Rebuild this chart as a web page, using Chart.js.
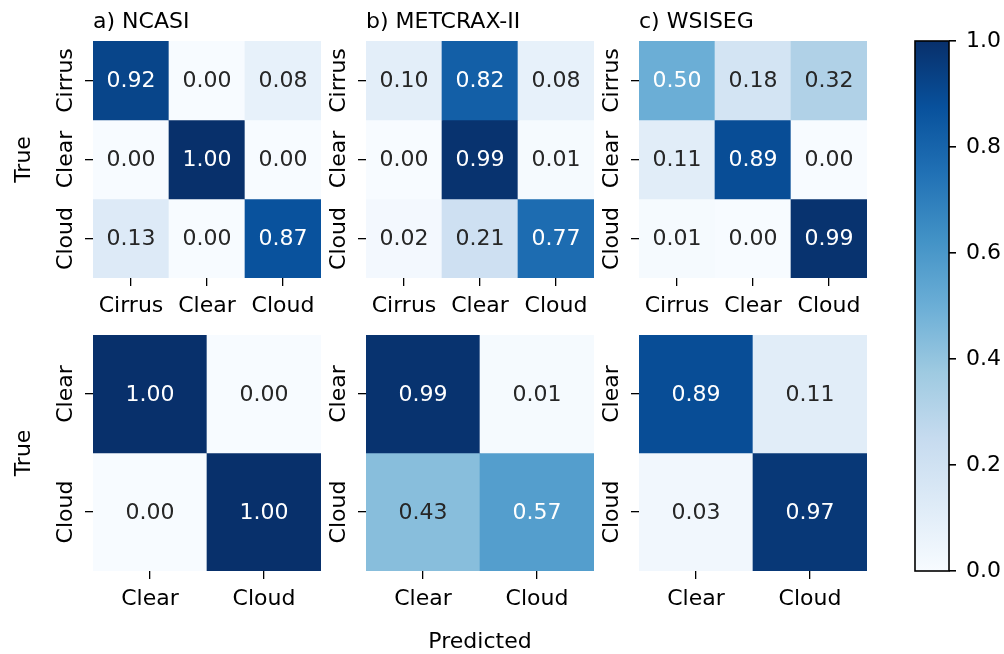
<!DOCTYPE html>
<html>
<head>
<meta charset="utf-8">
<title>Confusion matrices</title>
<script src="https://cdn.jsdelivr.net/npm/chart.js@4.4.1/dist/chart.umd.min.js"></script>
<style>
  html, body { margin: 0; padding: 0; background: #ffffff; }
  #fig { position: relative; width: 1004px; height: 654px; overflow: hidden; background: #ffffff; }
  #fig canvas { position: absolute; left: 0; top: 0; pointer-events: none; }
</style>
</head>
<body>
<div id="fig"></div>
<script>
// ---- class labels ----
const classes3 = ['Cirrus', 'Clear', 'Cloud'];
const classes2 = ['Clear', 'Cloud'];

// ---- normalised confusion matrices (rows = true class, columns = predicted) ----
const ncasi3   = [[0.92, 0.00, 0.08], [0.00, 1.00, 0.00], [0.13, 0.00, 0.87]];
const metcrax3 = [[0.10, 0.82, 0.08], [0.00, 0.99, 0.01], [0.02, 0.21, 0.77]];
const wsiseg3  = [[0.50, 0.18, 0.32], [0.11, 0.89, 0.00], [0.01, 0.00, 0.99]];
const ncasi2   = [[1.00, 0.00], [0.00, 1.00]];
const metcrax2 = [[0.99, 0.01], [0.43, 0.57]];
const wsiseg2  = [[0.89, 0.11], [0.03, 0.97]];

// ---- panel titles and colour-bar ticks ----
const titles = ['a) NCASI', 'b) METCRAX-II', 'c) WSISEG'];
const colorbarTicks = [0.0, 0.2, 0.4, 0.6, 0.8, 1.0];

const W = 1004, H = 654;
const FONT = 'DejaVu Sans';
Chart.defaults.font.family = FONT;
Chart.defaults.font.size = 22;
Chart.defaults.color = '#000000';

// "Blues" sequential colour map
const BLUES = ['#f7fbff', '#deebf7', '#c6dbef', '#9ecae1', '#6baed6',
               '#4292c6', '#2171b5', '#08519c', '#08306b'];
const BLUES_RGB = BLUES.map(h => [1, 3, 5].map(i => parseInt(h.substr(i, 2), 16)));

function bluesRgb(v) {
  const t = Math.min(Math.max(v, 0), 1) * 8;
  const i = Math.min(Math.floor(t), 7);
  const f = t - i;
  return BLUES_RGB[i].map((c, k) => c + (BLUES_RGB[i + 1][k] - c) * f);
}
function blues(v) {
  const c = bluesRgb(v);
  return `rgb(${c.map(x => Math.round(x)).join(',')})`;
}
// dark text on light cells, white text on dark cells
function textColor(v) {
  const lin = bluesRgb(v).map(x => {
    const c = x / 255;
    return c <= 0.03928 ? c / 12.92 : Math.pow((c + 0.055) / 1.055, 2.4);
  });
  const lum = 0.2126 * lin[0] + 0.7152 * lin[1] + 0.0722 * lin[2];
  return lum > 0.408 ? '#262626' : '#ffffff';
}

const fig = document.getElementById('fig');
function addCanvas() {
  const c = document.createElement('canvas');
  c.width = W; c.height = H;
  c.style.width = W + 'px'; c.style.height = H + 'px';
  fig.appendChild(c);
  return c;
}

// plot areas: [left, top, width, height]
const panels = [
  { title: titles[0], labels: classes3, values: ncasi3,   area: [93, 41, 228, 237],  yTitle: true },
  { title: titles[1], labels: classes3, values: metcrax3, area: [366, 41, 228, 237] },
  { title: titles[2], labels: classes3, values: wsiseg3,  area: [639, 41, 228, 237] },
  { labels: classes2, values: ncasi2,   area: [93, 335, 228, 236],  yTitle: true },
  { labels: classes2, values: metcrax2, area: [366, 335, 228, 236], xTitle: true },
  { labels: classes2, values: wsiseg2,  area: [639, 335, 228, 236] }
];

const Y_AXIS_W = 10, X_AXIS_H = 42;

function heatmap(p) {
  const [l, t, w, h] = p.area;
  const n = p.labels.length;
  const datasets = p.values.map((row, r) => ({
    data: row.map((v, j) => ({ x: p.labels[j], y: [r, r + 1] })),
    backgroundColor: row.map(blues),
    borderWidth: 0,
    grouped: false,
    barPercentage: 1,
    categoryPercentage: 1
  }));

  const textPlugin = {
    id: 'panelText',
    afterDatasetsDraw(chart) {
      const ctx = chart.ctx;
      const ca = chart.chartArea;
      const ys = chart.scales.y;
      ctx.save();
      ctx.font = `22px "${FONT}"`;
      ctx.textBaseline = 'alphabetic';

      // cell values
      ctx.textAlign = 'center';
      p.values.forEach((row, r) => {
        const meta = chart.getDatasetMeta(r);
        row.forEach((v, j) => {
          const c = meta.data[j].getCenterPoint();
          ctx.fillStyle = textColor(v);
          ctx.fillText(v.toFixed(2), c.x, c.y + 6.8);
        });
      });

      ctx.fillStyle = '#000000';
      // panel title
      if (p.title) {
        ctx.textAlign = 'left';
        ctx.fillText(p.title, ca.left, 28);
      }
      // rotated row labels
      ctx.textAlign = 'center';
      p.labels.forEach((lab, i) => {
        const y = ys.getPixelForValue(i + 0.5);
        ctx.save();
        ctx.translate(ca.left - 21.5, y);
        ctx.rotate(-Math.PI / 2);
        ctx.fillText(lab, 0, 0);
        ctx.restore();
      });
      if (p.yTitle) {
        ctx.save();
        ctx.translate(ca.left - 63.5, (ca.top + ca.bottom) / 2);
        ctx.rotate(-Math.PI / 2);
        ctx.fillText('True', 0, 0);
        ctx.restore();
      }
      if (p.xTitle) {
        ctx.fillText('Predicted', (ca.left + ca.right) / 2, 647.5);
      }
      ctx.restore();
    }
  };

  return new Chart(addCanvas(), {
    type: 'bar',
    data: { labels: p.labels, datasets },
    options: {
      responsive: false,
      animation: false,
      events: [],
      layout: {
        padding: { left: l - Y_AXIS_W, top: t, right: W - (l + w), bottom: H - (t + h) - X_AXIS_H }
      },
      plugins: { legend: { display: false }, tooltip: { enabled: false } },
      scales: {
        x: {
          type: 'category',
          offset: true,
          afterFit: s => { s.height = X_AXIS_H; },
          ticks: { padding: 7, maxRotation: 0, minRotation: 0, autoSkip: false, color: '#000000' },
          grid: { offset: false, drawOnChartArea: false, tickLength: 8, color: '#000000', lineWidth: 1.3 },
          border: { display: false }
        },
        y: {
          type: 'linear',
          reverse: true,
          min: 0,
          max: n,
          afterBuildTicks: s => { s.ticks = p.labels.map((_, i) => ({ value: i + 0.5 })); },
          afterFit: s => { s.width = Y_AXIS_W; },
          ticks: { display: false },
          grid: { drawOnChartArea: false, tickLength: 8, color: '#000000', lineWidth: 1.3 },
          border: { display: false }
        }
      }
    },
    plugins: [textPlugin]
  });
}

panels.forEach(heatmap);

// ---- colour bar ----
const CB = { left: 915, right: 949, top: 41, bottom: 571 };
const framePlugin = {
  id: 'cbFrame',
  afterDatasetsDraw(chart) {
    const ca = chart.chartArea;
    const ctx = chart.ctx;
    ctx.save();
    ctx.strokeStyle = '#000000';
    ctx.lineWidth = 1.6;
    ctx.strokeRect(ca.left, ca.top, ca.right - ca.left, ca.bottom - ca.top);
    ctx.restore();
  }
};

new Chart(addCanvas(), {
  type: 'bar',
  data: {
    labels: [''],
    datasets: [{
      data: [[0, 1]],
      backgroundColor: c => {
        const ca = c.chart.chartArea;
        if (!ca) return BLUES[0];
        const g = c.chart.ctx.createLinearGradient(0, ca.bottom, 0, ca.top);
        BLUES.forEach((col, i) => g.addColorStop(i / 8, col));
        return g;
      },
      borderWidth: 0,
      barPercentage: 1,
      categoryPercentage: 1
    }]
  },
  options: {
    responsive: false,
    animation: false,
    events: [],
    layout: { padding: { left: CB.left, top: CB.top, right: 0, bottom: H - CB.bottom } },
    plugins: { legend: { display: false }, tooltip: { enabled: false } },
    scales: {
      x: { display: false },
      y: {
        position: 'right',
        min: 0,
        max: 1,
        afterBuildTicks: s => { s.ticks = colorbarTicks.map(v => ({ value: v })); },
        afterFit: s => { s.width = W - CB.right; },
        ticks: { callback: v => Number(v).toFixed(1), padding: 10, color: '#000000' },
        grid: { drawOnChartArea: false, tickLength: 7, color: '#000000', lineWidth: 1.6 },
        border: { display: false }
      }
    }
  },
  plugins: [framePlugin]
});
</script>
</body>
</html>
